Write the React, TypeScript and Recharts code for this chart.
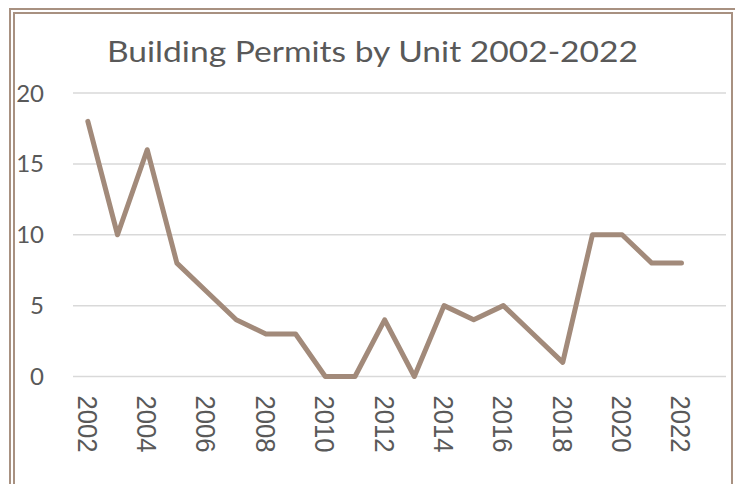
import React from 'react';
import { LineChart, Line, XAxis, YAxis, CartesianGrid } from 'recharts';

const years = [2002, 2003, 2004, 2005, 2006, 2007, 2008, 2009, 2010, 2011, 2012, 2013, 2014, 2015, 2016, 2017, 2018, 2019, 2020, 2021, 2022];
const permits = [18, 10, 16, 8, 6, 4, 3, 3, 0, 0, 4, 0, 5, 4, 5, 3, 1, 10, 10, 8, 8];
const xTicks = [2002, 2004, 2006, 2008, 2010, 2012, 2014, 2016, 2018, 2020, 2022];
const yTicks = [0, 5, 10, 15, 20];
const title = 'Building Permits by Unit 2002-2022';

const data = years.map((y, i) => ({ year: y, value: permits[i] }));

const TEXT = '#595959';
const LINE = '#A28A7A';
const FRAME = '#A89181';

const XTick = (props: any) => {
  const { x, y, payload } = props;
  return (
    <g transform={`translate(${x},${y + 19})`}>
      <text
        transform="rotate(90)"
        x={0}
        y={0}
        dy="0.36em"
        textAnchor="start"
        fill={TEXT}
        fontFamily="'Liberation Sans', Arial, sans-serif"
        fontSize={28}
        textLength={57}
        lengthAdjust="spacingAndGlyphs"
      >
        {payload.value}
      </text>
    </g>
  );
};

export default function App() {
  return (
    <div style={{ position: 'absolute', left: 0, top: 0, width: 735, height: 484, overflow: 'hidden', background: '#fff' }}>
      <div style={{ position: 'absolute', left: 9, top: 8, width: 800, height: 600, border: `2px solid ${FRAME}`, boxSizing: 'border-box' }} />
      <div style={{ position: 'absolute', left: 13, top: 12, width: 720, height: 600, border: `2px solid ${FRAME}`, boxSizing: 'border-box' }} />
      <svg style={{ position: 'absolute', left: 0, top: 0 }} width={735} height={90}>
        <text
          x={372.5}
          y={62}
          textAnchor="middle"
          fill={TEXT}
          fontFamily="Lato, 'Noto Sans', sans-serif"
          fontSize={29}
          textLength={531}
          lengthAdjust="spacingAndGlyphs"
        >
          {title}
        </text>
      </svg>
      <div style={{ position: 'absolute', left: 0, top: 0 }}>
        <LineChart width={735} height={484} data={data} margin={{ top: 93, right: 9, bottom: 47.5, left: 0 }}>
          <CartesianGrid vertical={false} stroke="#D9D9D9" strokeWidth={1.5} />
          <XAxis
            dataKey="year"
            type="number"
            domain={[2001.5, 2023.5]}
            ticks={xTicks}
            interval={0}
            axisLine={false}
            tickLine={false}
            tickSize={0}
            tickMargin={0}
            height={60}
            tick={<XTick />}
          />
          <YAxis
            domain={[0, 20]}
            ticks={yTicks}
            width={73}
            axisLine={false}
            tickLine={false}
            tickSize={0}
            tickMargin={29}
            tick={{ fill: TEXT, fontSize: 24, fontFamily: 'Lato, sans-serif' }}
          />
          <Line
            type="linear"
            dataKey="value"
            stroke={LINE}
            strokeWidth={5}
            dot={false}
            strokeLinejoin="round"
            strokeLinecap="round"
            isAnimationActive={false}
          />
        </LineChart>
      </div>
    </div>
  );
}
